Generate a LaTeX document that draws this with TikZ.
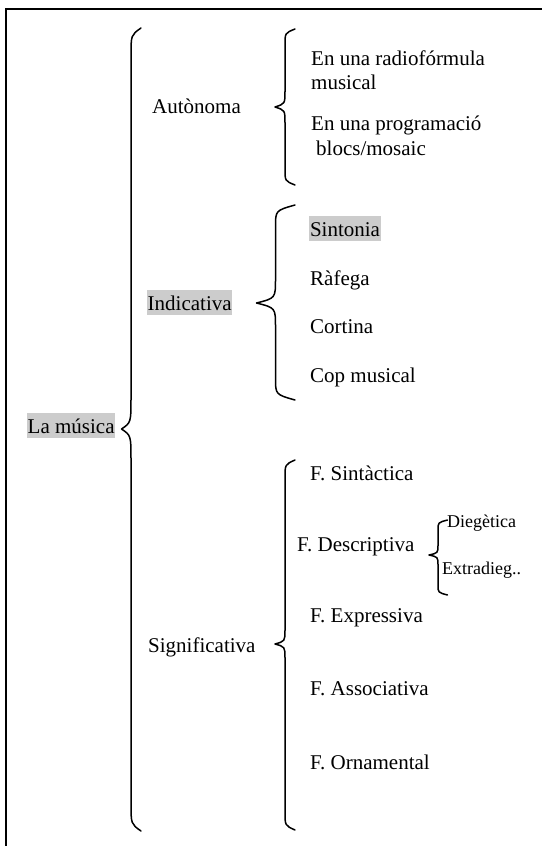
\documentclass[tikz,border=0pt]{standalone}
\usepackage{fontspec}
\setmainfont{Liberation Serif}
\definecolor{hlgray}{HTML}{CCCCCC}
\tikzset{
  lbl/.style={anchor=base west, inner sep=0pt, font=\fontsize{21}{24}\selectfont},
  sml/.style={anchor=base west, inner sep=0pt, font=\fontsize{18}{21}\selectfont},
  hl/.style={fill=hlgray, text height=19.8pt, text depth=4.8pt, inner xsep=0.8pt},
  bracestyle/.style={line width=1.5pt, line cap=round, line join=round},
  framestyle/.style={line width=1.9pt}
}
% #1 xe, #2 xv, #3 xtip, #4 ytop, #5 ytip, #6 ybot, #7 r (ends), #8 r2 (tip)
\newcommand\mybrc[8]{%
  \draw[bracestyle] (#1,#4) .. controls (#2,{#4+0.25*#7}) .. (#2,{#4+#7})
    -- (#2,{#5-#8}) .. controls (#2,{#5-0.2*#8}) .. (#3,#5)
    .. controls (#2,{#5+0.2*#8}) .. (#2,{#5+#8})
    -- (#2,{#6-#7}) .. controls (#2,{#6-0.25*#7}) .. (#1,#6);}
\begin{document}
\begin{tikzpicture}[x=1pt,y=-1pt]
\useasboundingbox (0,0) rectangle (541,846);
% frame (cut off at right and bottom)
\draw[framestyle] (545,9.3) -- (6.2,9.3) -- (6.2,850);
% braces
\mybrc{141}{131}{121.5}{28}{429}{831}{28}{32}
\mybrc{295}{285}{275}{29}{107}{185}{16}{16}
\mybrc{295}{275.5}{256.5}{205}{303}{400}{22}{24}
\mybrc{295}{285}{275}{460}{644}{830}{18}{14}
\mybrc{447.5}{438}{429}{520}{555}{595}{10}{10}
% texts
\node[lbl,hl] (musica) at (26.7,433) {La música};
\node[lbl] (autonoma) at (152,113) {Autònoma};
\node[lbl] (radio1) at (311,65.7) {En una radiofórmula};
\node[lbl] (radio2) at (311,89.3) {musical};
\node[lbl] (prog1) at (311,130) {En una programació};
\node[lbl] (prog2) at (316,155) {blocs/mosaic};
\node[lbl,hl] (indicativa) at (146.7,310) {Indicativa};
\node[lbl,hl] (sintonia) at (309,236) {Sintonia};
\node[lbl] (rafega) at (310,285) {Ràfega};
\node[lbl] (cortina) at (310,333) {Cortina};
\node[lbl] (cop) at (310,382.7) {Cop musical};
\node[lbl] (signif) at (148,652) {Significativa};
\node[lbl] (sintac) at (310,480) {F. Sintàctica};
\node[lbl] (descr) at (297,551) {F. Descriptiva};
\node[lbl] (expr) at (310,622) {F. Expressiva};
\node[lbl] (assoc) at (310,695) {F. Associativa};
\node[lbl] (ornam) at (310,769) {F. Ornamental};
\node[sml] (dieg) at (447,527) {Diegètica};
\node[sml] (extra) at (442,574) {Extradieg..};
\end{tikzpicture}
\end{document}
